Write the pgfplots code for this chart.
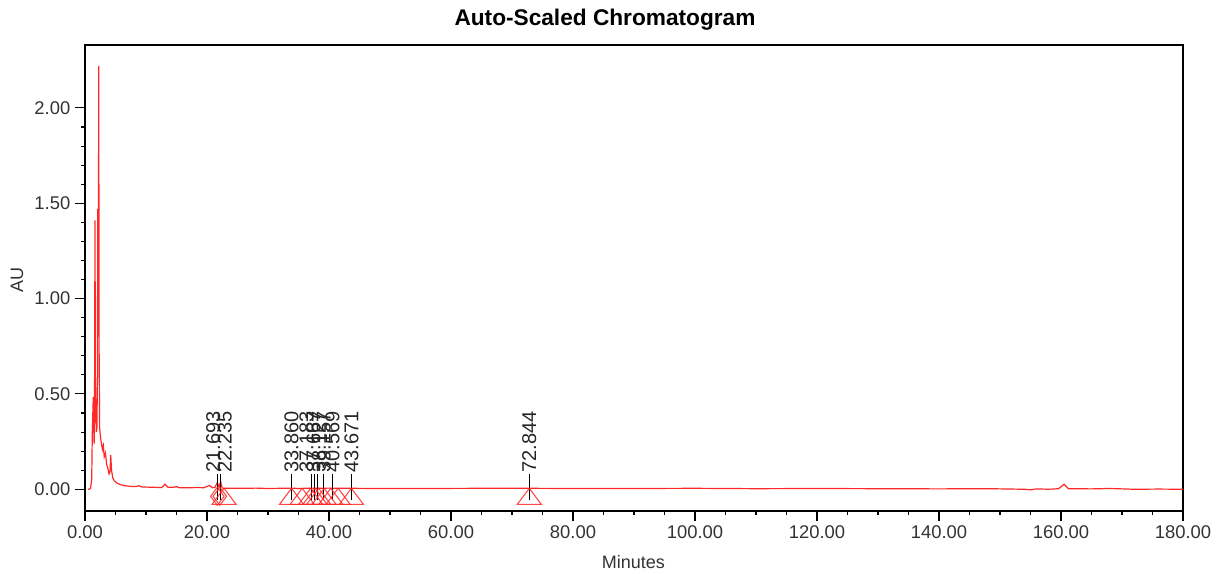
\documentclass[border=0pt]{standalone}
\usepackage{fontspec}
\setmainfont{Liberation Sans}
\usepackage{pgfplots}
\pgfplotsset{compat=1.18}
\definecolor{trace}{RGB}{255,40,40}
\newcommand{\pklab}[2]{\draw[black, line width=0.6pt] (axis cs:#1,-0.058) -- (axis cs:#1,0.08) node[rotate=90, anchor=west, inner sep=1pt, yshift=#2, text=black!85, font=\fontsize{15pt}{17pt}\selectfont] {#1};}
\begin{document}
\begin{tikzpicture}
\useasboundingbox (0,0) rectangle (917.25pt,430.5pt);
\begin{axis}[
  at={(63.75pt,47.25pt)}, anchor=south west,
  scale only axis, width=823.5pt, height=349.5pt,
  xmin=0, xmax=180, ymin=-0.114, ymax=2.33,
  xtick={0,20,...,180}, minor x tick num=3,
  ytick={0,0.5,1,1.5,2}, minor y tick num=4,
  tick align=outside, tick pos=left,
  major tick length=7.5pt, minor tick length=3pt,
  tick style={black, line width=0.8pt},
  axis line style={black, line width=1.2pt},
  /pgf/number format/assume math mode=true,
  /pgf/number format/.cd, fixed, fixed zerofill, precision=2, /pgfplots/.cd,
  ticklabel style={font=\fontsize{13.8pt}{16pt}\selectfont, text=black!80},
  clip=false,
]
\addplot[trace, line width=0.9pt] coordinates {
(0.5,0.000) (0.9,0.003) (1.1,0.05) (1.2,0.30) (1.3,0.42) (1.36,0.485) (1.42,0.33)
(1.5,0.24) (1.56,0.40) (1.64,1.41) (1.70,0.60) (1.78,0.38) (1.86,0.30) (1.95,0.32)
(2.03,0.55) (2.10,1.47) (2.15,0.80) (2.20,1.10) (2.25,2.22) (2.32,0.70) (2.40,0.32)
(2.55,0.27) (2.70,0.24) (2.85,0.21) (3.0,0.23) (3.15,0.17) (3.35,0.19) (3.55,0.13)
(3.75,0.11) (3.95,0.08) (4.10,0.09) (4.22,0.18) (4.35,0.10) (4.55,0.06) (4.8,0.045)
(5.2,0.033) (5.8,0.024) (6.5,0.019) (7.5,0.015) (8.4,0.014) (8.8,0.019) (9.3,0.012)
(10.5,0.011) (11.5,0.010) (12.6,0.009) (13.1,0.027) (13.6,0.011) (14.5,0.010)
(15.0,0.014) (15.5,0.008) (17,0.008) (18.5,0.009) (19.5,0.008) (20.4,0.020)
(20.9,0.008) (21.3,0.010) (21.69,0.035) (21.95,0.012) (22.24,0.040) (22.5,0.006)
(23.5,0.005) (26,0.005) (28,0.006) (30,0.004) (33.86,0.006) (35,0.004) (37.18,0.006)
(38,0.005) (40,0.006) (43.67,0.005) (48,0.004) (55,0.004) (65,0.005) (72.84,0.005)
(80,0.004) (90,0.004) (100,0.005) (110,0.003) (120,0.004) (130,0.003) (140,0.002)
(148,0.003) (152,0.001) (154,0.000) (155,-0.003) (156,0.002) (158,0.000) (159.6,0.003)
(160.5,0.026) (161.2,0.003) (165,0.002) (168,0.004) (172,0.000) (176,0.001) (180,0.000)
};
\addplot[only marks, mark=triangle, mark size=8pt, mark options={xscale=1.3, trace, line width=0.8pt, fill=none}, opacity=0.85]
  coordinates {(22.8,-0.051) (33.86,-0.051) (35.6,-0.051) (37.0,-0.051) (37.7,-0.051) (38.3,-0.051) (39.2,-0.051) (40.3,-0.051) (41.5,-0.051) (43.67,-0.051) (72.84,-0.051)};
\addplot[only marks, mark=diamond, mark size=6.75pt, mark options={trace, line width=0.8pt, fill=none}, opacity=0.85]
  coordinates {(21.69,-0.037) (22.1,-0.037)};
\pklab{21.693}{3pt}
\pklab{22.235}{-3pt}
\pklab{33.860}{0pt}
\pklab{37.183}{4pt}
\pklab{37.667}{1pt}
\pklab{38.127}{-1pt}
\pklab{39.157}{0pt}
\pklab{40.569}{0pt}
\pklab{43.671}{0pt}
\pklab{72.844}{0pt}
\end{axis}
\node[font=\bfseries\fontsize{17pt}{20pt}\selectfont] at (453.75pt,415.5pt) {Auto-Scaled Chromatogram};
\node[font=\fontsize{13.5pt}{16pt}\selectfont, text=black!80] at (475pt,9pt) {Minutes};
\node[font=\fontsize{13.5pt}{16pt}\selectfont, text=black!80, rotate=90] at (12.75pt,220.5pt) {AU};
\end{tikzpicture}
\end{document}
